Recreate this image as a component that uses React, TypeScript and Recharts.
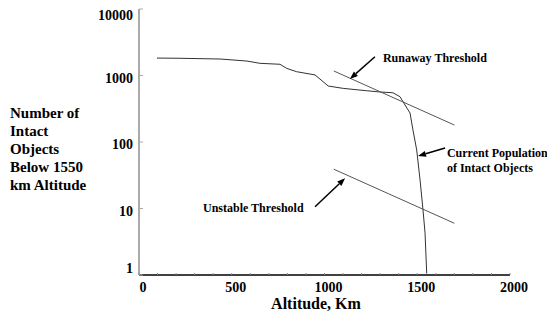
import { LineChart, Line, XAxis, YAxis, ReferenceLine, ReferenceDot } from 'recharts';

// current population of intact objects (altitude km -> count)
const popAlt = [97, 221, 437, 581, 652, 760, 796, 850, 949, 1020, 1101, 1228, 1299, 1369, 1407, 1434, 1461, 1477, 1497, 1515, 1531, 1542, 1551];
const popCount = [1830, 1815, 1770, 1650, 1525, 1475, 1280, 1140, 1020, 695, 640, 590, 565, 550, 480, 360, 273, 151, 76, 27, 9.5, 4.3, 1.05];

const runawayAlt = [1050, 1700];
const runawayCount = [1170, 180];

const unstableAlt = [1050, 1700];
const unstableCount = [39, 6];

const xTicks = [0, 100, 200, 300, 400, 500, 600, 700, 800, 900, 1000, 1100, 1200, 1300, 1400, 1500, 1600, 1700, 1800, 1900, 2000];
const xLabels = [0, 500, 1000, 1500, 2000];
const yTicks = [1, 10, 100, 1000, 10000];

const yTitle = ['Number of', 'Intact', 'Objects', 'Below 1550', 'km Altitude'];

// annotation arrows: [fromAlt, fromCount, toAlt, toCount]
const arrows = [
  [1272, 1918, 1137, 886],
  [949, 10.6, 1111, 28.5],
  [1650, 81, 1504, 61.5],
];

// annotation texts: [alt, count, text]
const notes: [number, number, string][] = [
  [1315, 1596, 'Runaway Threshold'],
  [1660, 59.5, 'Current Population'],
  [1660, 35.4, 'of Intact Objects'],
  [345, 8.86, 'Unstable Threshold'],
];

const pop = popAlt.map((a, i) => ({ alt: a, count: popCount[i] }));
const runaway = runawayAlt.map((a, i) => ({ alt: a, count: runawayCount[i] }));
const unstable = unstableAlt.map((a, i) => ({ alt: a, count: unstableCount[i] }));

const font = '"Liberation Serif", "Times New Roman", serif';

const XTick = ({ x, y, payload }: any) => {
  const v = payload.value;
  return (
    <g>
      <line x1={x} y1={y} x2={x} y2={y - 2} stroke="#888" />
      {xLabels.includes(v) && (
        <text x={x + 4} y={y + 17} textAnchor="middle" fontFamily={font} fontWeight="bold" fontSize={14} fill="#000">
          {v}
        </text>
      )}
    </g>
  );
};

const YTick = ({ x, y, payload }: any) => {
  const v = payload.value;
  const dy = v === 1 ? -2 : v === 10000 ? 11 : 7;
  return (
    <g>
      <line x1={x} y1={y} x2={x + 4} y2={y} stroke="#aaa" />
      <text x={x - 6} y={y + dy} textAnchor="end" fontFamily={font} fontWeight="bold" fontSize={14} fill="#000">
        {v}
      </text>
    </g>
  );
};

const Arrow = (props: any) => {
  const { x1, y1, x2, y2 } = props;
  if ([x1, y1, x2, y2].some((n) => n == null || isNaN(n))) return null;
  const ang = Math.atan2(y2 - y1, x2 - x1);
  const len = 8;
  const w = 3;
  const bx = x2 - len * Math.cos(ang);
  const by = y2 - len * Math.sin(ang);
  const px = -Math.sin(ang) * w;
  const py = Math.cos(ang) * w;
  return (
    <g>
      <line x1={x1} y1={y1} x2={bx} y2={by} stroke="#000" strokeWidth={1.5} />
      <polygon points={`${x2},${y2} ${bx + px},${by + py} ${bx - px},${by - py}`} fill="#000" />
    </g>
  );
};

export default function App() {
  return (
    <div style={{ position: 'absolute', left: 0, top: 0, width: 547, height: 311, background: '#fff' }}>
      <LineChart width={547} height={311} margin={{ top: 9, right: 37, bottom: 0, left: 0 }}>
        <XAxis
          type="number"
          dataKey="alt"
          domain={[0, 2000]}
          ticks={xTicks}
          interval={0}
          height={36}
          tickSize={0}
          tickMargin={0}
          tick={<XTick />}
          axisLine={{ stroke: '#000', strokeWidth: 1.5 }}
          tickLine={false}
          allowDataOverflow
          label={{
            content: () => (
              <text x={316} y={309} textAnchor="middle" fontFamily={font} fontWeight="bold" fontSize={16} fill="#000">
                Altitude, Km
              </text>
            ),
          }}
        />
        <YAxis
          type="number"
          dataKey="count"
          scale="log"
          domain={[1, 10000]}
          ticks={yTicks}
          interval={0}
          width={139}
          tickSize={0}
          tickMargin={0}
          tick={<YTick />}
          axisLine={{ stroke: '#aaa', strokeWidth: 2 }}
          tickLine={false}
          allowDataOverflow
          label={{
            content: () => (
              <text fontFamily={font} fontWeight="bold" fontSize={15} fill="#000">
                {yTitle.map((t, i) => (
                  <tspan key={t} x={10} y={118 + i * 18}>
                    {t}
                  </tspan>
                ))}
              </text>
            ),
          }}
        />
        <Line data={pop} dataKey="count" type="linear" stroke="#333" strokeWidth={1} dot={false} isAnimationActive={false} />
        <Line data={runaway} dataKey="count" type="linear" stroke="#555" strokeWidth={1} dot={false} isAnimationActive={false} />
        <Line data={unstable} dataKey="count" type="linear" stroke="#555" strokeWidth={1} dot={false} isAnimationActive={false} />
        {arrows.map((a, i) => (
          <ReferenceLine
            key={'a' + i}
            segment={[
              { x: a[0], y: a[1] },
              { x: a[2], y: a[3] },
            ]}
            ifOverflow="visible"
            shape={<Arrow />}
          />
        ))}
        {notes.map((n, i) => (
          <ReferenceDot
            key={'n' + i}
            x={n[0]}
            y={n[1]}
            r={0}
            ifOverflow="visible"
            shape={(p: any) => (
              <text x={p.cx} y={p.cy} fontFamily={font} fontWeight="bold" fontSize={12} fill="#000">
                {n[2]}
              </text>
            )}
          />
        ))}
      </LineChart>
    </div>
  );
}
